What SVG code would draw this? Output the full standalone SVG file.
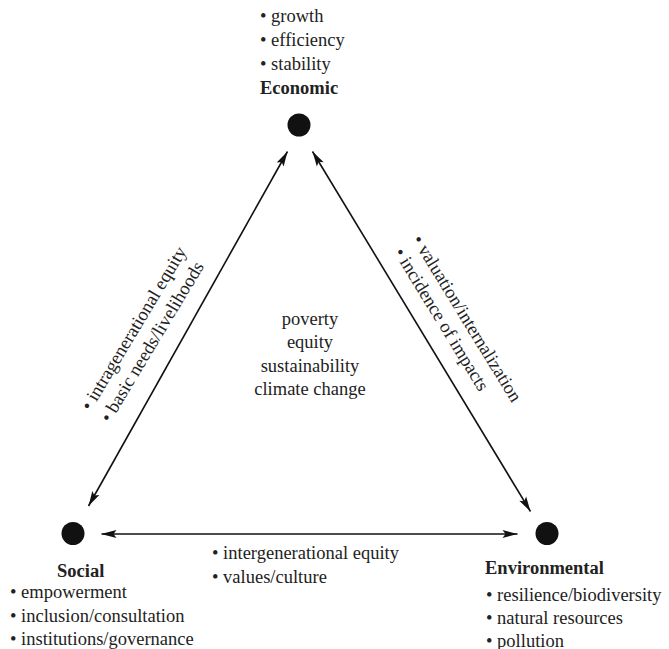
<svg xmlns="http://www.w3.org/2000/svg" width="669" height="649" viewBox="0 0 669 649">
<defs>
<marker id="ah" markerUnits="userSpaceOnUse" markerWidth="16" markerHeight="10" viewBox="-16 -5 16 10" refX="0" refY="0" orient="auto-start-reverse">
<path d="M0,0 L-15,-4 L-12,0 L-15,4 Z" fill="#111"/>
</marker>
<style>
text{font-family:"Liberation Serif","Times New Roman",serif;font-size:18.5px;fill:#222}
.b{font-weight:bold}
.c{text-anchor:middle}
.dot{fill:#111}
.ln{stroke:#111;stroke-width:1.6;fill:none;marker-start:url(#ah);marker-end:url(#ah)}
</style>
</defs>
<rect width="669" height="649" fill="#fff"/>
<g id="connectors">
<line class="ln" x1="287.5" y1="151.5" x2="88.5" y2="506"/>
<line class="ln" x1="312.5" y1="151.5" x2="530.5" y2="511.5"/>
<line class="ln" x1="101.5" y1="534" x2="517.5" y2="534"/>
<text transform="translate(90.6,411.8) rotate(-59)">• intragenerational equity</text>
<text transform="translate(110,423.4) rotate(-59)">• basic needs/livelihoods</text>
<text transform="translate(411.7,239.7) rotate(58.5)">• valuation/internalization</text>
<text transform="translate(393.4,252.4) rotate(58.5)">• incidence of impacts</text>
<text x="212" y="559">• intergenerational equity</text>
<text x="212" y="582.5">• values/culture</text>
</g>
<g id="economic">
<circle class="dot" cx="299" cy="125" r="11.5"/>
<text x="260" y="22">• growth</text>
<text x="260" y="46">• efficiency</text>
<text x="260" y="70">• stability</text>
<text class="b" x="260" y="94">Economic</text>
</g>
<g id="social">
<circle class="dot" cx="73" cy="533.5" r="11.5"/>
<text class="b" x="57" y="577">Social</text>
<text x="10" y="597.5">• empowerment</text>
<text x="10" y="621.5">• inclusion/consultation</text>
<text x="10" y="645">• institutions/governance</text>
</g>
<g id="environmental">
<circle class="dot" cx="547" cy="533.5" r="11.5"/>
<text class="b" x="485" y="574">Environmental</text>
<text x="486" y="600.5">• resilience/biodiversity</text>
<text x="486" y="623.5">• natural resources</text>
<text x="486" y="646.5">• pollution</text>
</g>
<g id="center">
<text class="c" x="310" y="325">poverty</text>
<text class="c" x="310" y="348">equity</text>
<text class="c" x="310" y="371.5">sustainability</text>
<text class="c" x="310" y="395">climate change</text>
</g>
</svg>
